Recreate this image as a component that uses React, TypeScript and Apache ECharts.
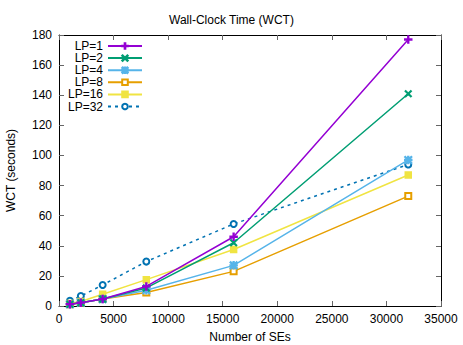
import React, { useEffect, useRef } from "react";
import * as echarts from "echarts";

const xValues = [1000, 2000, 4000, 8000, 16000, 32000];
const seriesNames = ["LP=1", "LP=2", "LP=4", "LP=8", "LP=16", "LP=32"];
const lp1 = [1.2, 2.2, 4.6, 13, 46, 177];
const lp2 = [1.2, 2.2, 4.6, 12, 42, 141];
const lp4 = [1.2, 2.2, 4.6, 10.5, 27, 97];
const lp8 = [1.2, 2.2, 4.6, 9, 23, 73];
const lp16 = [1.6, 3, 7.8, 17.5, 37.5, 87];
const lp32 = [3.5, 6.6, 14, 29.5, 54.5, 94];
const seriesValues = [lp1, lp2, lp4, lp8, lp16, lp32];

const colors = ["#9400d3", "#009e73", "#56b4e9", "#e69f00", "#f0e442", "#0072b2"];

const plusPath = "path://M4.4,0 H5.6 V4.4 H10 V5.6 H5.6 V10 H4.4 V5.6 H0 V4.4 H4.4 Z";
const crossPath = "path://M0,0.8 L0.8,0 L5,4.2 L9.2,0 L10,0.8 L5.8,5 L10,9.2 L9.2,10 L5,5.8 L0.8,10 L0,9.2 L4.2,5 Z";
const starPath =
  "path://M4.4,0 H5.6 V10 H4.4 Z M0,4.4 H10 V5.6 H0 Z M0,0.8 L0.8,0 L10,9.2 L9.2,10 Z M9.2,0 L10,0.8 L0.8,10 L0,9.2 Z";
const symbols = [plusPath, crossPath, starPath, "emptyRect", "rect", "emptyCircle"];
const symbolSizes = [7, 6, 7, 6, 6, 6];

const FONT = "Liberation Sans, Arial, sans-serif";

export default function App() {
  const ref = useRef<HTMLDivElement>(null);
  useEffect(() => {
    if (!ref.current) return;
    document.body.style.margin = "0";
    const chart = echarts.init(ref.current, null, { renderer: "svg" });
    const axisCommon = {
      type: "value" as const,
      splitLine: { show: false },
      axisLine: { show: true, onZero: false, lineStyle: { color: "#000", width: 1 } },
      axisTick: { show: true, inside: true, length: 5, lineStyle: { color: "#666", width: 1 } },
    };
    const legends = seriesNames.map((name, i) => ({
      data: [name],
      right: 320,
      top: 40 + i * 12.1,
      orient: "vertical" as const,
      padding: 0,
      itemWidth: 34,
      itemHeight: 7,
      itemGap: 0,
      textStyle: { fontSize: 12, lineHeight: 11, fontFamily: FONT, color: "#000" },
      align: "right" as const,
    }));
    chart.setOption({
      animation: false,
      backgroundColor: "#fff",
      title: {
        text: "Wall-Clock Time (WCT)",
        left: "center",
        top: 9,
        textStyle: { fontSize: 12, fontWeight: "normal", fontFamily: FONT, color: "#000" },
      },
      legend: legends,
      grid: { left: 59, right: 22, top: 35, bottom: 39, containLabel: false, outerBoundsMode: "none" },
      xAxis: [
        {
          ...axisCommon,
          position: "bottom",
          min: 0,
          max: 35000,
          interval: 5000,
          name: "Number of SEs",
          nameLocation: "middle",
          nameGap: 25,
          nameTextStyle: { fontSize: 12, fontFamily: FONT, color: "#000" },
          axisLabel: {
            fontSize: 12,
            fontFamily: FONT,
            color: "#000",
            margin: 7,
            formatter: (v: number) => String(v),
          },
        },
        {
          ...axisCommon,
          position: "top",
          min: 0,
          max: 35000,
          interval: 5000,
          axisLabel: { show: false },
        },
      ],
      yAxis: [
        {
          ...axisCommon,
          position: "left",
          min: 0,
          max: 180,
          interval: 20,
          name: "WCT (seconds)",
          nameLocation: "middle",
          nameGap: 42,
          nameRotate: 90,
          nameTextStyle: { fontSize: 12, fontFamily: FONT, color: "#000" },
          axisLabel: { fontSize: 12, fontFamily: FONT, color: "#000", margin: 7 },
        },
        {
          ...axisCommon,
          position: "right",
          min: 0,
          max: 180,
          interval: 20,
          axisLabel: { show: false },
        },
      ],
      series: seriesNames.map((name, i) => ({
        name,
        type: "line",
        xAxisIndex: 0,
        yAxisIndex: 0,
        data: xValues.map((x, j) => [x, seriesValues[i][j]]),
        symbol: symbols[i],
        symbolSize: symbolSizes[i],
        showAllSymbol: true,
        color: colors[i],
        lineStyle: { color: colors[i], width: 1.5, type: i === 5 ? [3, 4] : "solid" },
        itemStyle: { color: colors[i], borderColor: colors[i], borderWidth: 1.5 },
        z: 10 - i,
      })),
    });
    return () => chart.dispose();
  }, []);
  return <div ref={ref} style={{ width: 463, height: 345 }} />;
}
